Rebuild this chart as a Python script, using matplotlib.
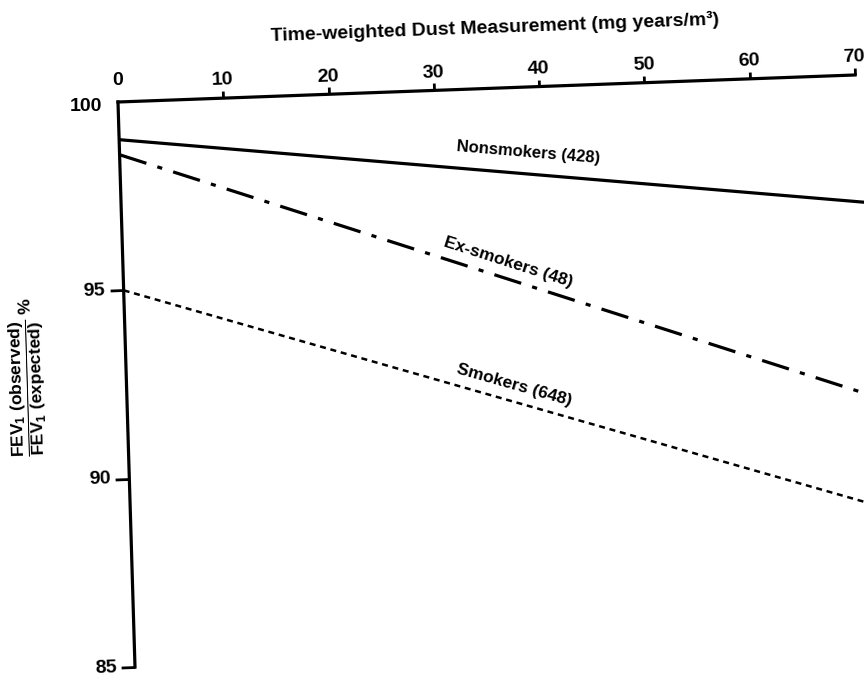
import numpy as np
import matplotlib
matplotlib.use('Agg')
import matplotlib.pyplot as plt
from matplotlib.transforms import Affine2D
import mpl_toolkits.axisartist.floating_axes as floating_axes
from mpl_toolkits.axisartist.grid_finder import FixedLocator

plt.rcParams['font.family'] = ['Liberation Sans', 'DejaVu Sans']
plt.rcParams['font.weight'] = 'bold'
plt.rcParams['mathtext.fontset'] = 'custom'
plt.rcParams['mathtext.rm'] = 'Liberation Sans:bold'
plt.rcParams['mathtext.it'] = 'Liberation Sans:bold'
plt.rcParams['mathtext.bf'] = 'Liberation Sans:bold'

# regression lines (FEV1 % vs dust exposure)
dust = [0, 71]
nonsmokers = [99.0, 96.6]
ex_smokers = [98.6, 91.45]
smokers = [95.0, 88.55]
group_names = ['Nonsmokers (428)', 'Ex-smokers (48)', 'Smokers (648)']

x_ticks = [10, 20, 30, 40, 50, 60, 70]
y_ticks = [85, 90, 95]

W, H = 864, 676

# the scanned page is slightly rotated, so map data -> figure pixels with an affine
tr = Affine2D(np.array([[10.529, -1.133, 231.3],
                        [0.386, 37.667, -3192.7],
                        [0.0, 0.0, 1.0]]))

fig = plt.figure(figsize=(W / 100, H / 100), dpi=100)
fig.patch.set_facecolor('white')

grid_helper = floating_axes.GridHelperCurveLinear(
    tr, extremes=(0, 70, 85, 100),
    grid_locator1=FixedLocator(x_ticks),
    grid_locator2=FixedLocator(y_ticks))
ax = fig.add_axes([0, 0, 1, 1], axes_class=floating_axes.FloatingAxes,
                  grid_helper=grid_helper)
ax.set_aspect('auto')
# parent limits are in pixels, so put the box where those pixels are
x0, x1 = ax.get_xlim()
y0, y1 = ax.get_ylim()
ax.set_position([x0 / W, y0 / H, (x1 - x0) / W, (y1 - y0) / H])

ax.axis['bottom'].set_visible(False)
ax.axis['right'].set_visible(False)
ax.axis['top'].toggle(ticklabels=True)

for side, size in [('top', 5), ('left', 10)]:
    axis = ax.axis[side]
    axis.line.set_linewidth(2.3)
    axis.major_ticks.set_tick_out(True)
    axis.major_ticks.set_ticksize(size)
    axis.major_ticks.set_markeredgewidth(2.0)
    axis.major_ticks.set_color('black')
    axis.major_ticklabels.set_fontsize(14)
    axis.major_ticklabels.set_fontweight('bold')
ax.axis['top'].major_ticklabels.set_pad(3)
ax.axis['left'].major_ticklabels.set_pad(2.5)

aux_ax = ax.get_aux_axes(tr)

aux_ax.plot(dust, nonsmokers, color='black', lw=2.3, solid_capstyle='butt', clip_on=False)
aux_ax.plot(dust, ex_smokers, color='black', lw=2.3, dashes=(8.8, 3.6, 1.6, 3.6), clip_on=False)
aux_ax.plot(dust, smokers, color='black', lw=1.8, dashes=(2.4, 1.9), clip_on=False)

series = [nonsmokers, ex_smokers, smokers]
label_xy = [(38.75, 98.25), (36.6, 95.38), (36.8, 92.11)]
label_size = [12, 12.5, 12.5]
for name, vals, (lx, ly), fs in zip(group_names, series, label_xy, label_size):
    ang = np.degrees(np.arctan2(vals[1] - vals[0], dust[1] - dust[0]))
    aux_ax.text(lx, ly, name, rotation=ang, transform_rotates_text=True,
                rotation_mode='anchor', ha='center', va='center',
                fontsize=fs, fontweight='bold')

# end labels without tick marks
aux_ax.annotate('0', xy=(0, 100), xytext=(0, 15.5), textcoords='offset points',
                ha='center', va='center', fontsize=14, fontweight='bold')
aux_ax.annotate('100', xy=(0, 100), xytext=(-11.5, -3), textcoords='offset points',
                ha='right', va='center', fontsize=14, fontweight='bold')

aux_ax.text(36, 101.6, 'Time-weighted Dust Measurement (mg years/m³)',
            rotation=0, transform_rotates_text=True, rotation_mode='anchor',
            ha='center', va='center', fontsize=14, fontweight='bold')
aux_ax.text(-9.3, 92.8,
            r'$\dfrac{\mathrm{FEV_1\ (observed)}}{\mathrm{FEV_1\ (expected)}}\ \%$',
            rotation=90, transform_rotates_text=True, rotation_mode='anchor',
            ha='center', va='center', fontsize=12.5)

fig.savefig('out.png', dpi=100, facecolor='white')
